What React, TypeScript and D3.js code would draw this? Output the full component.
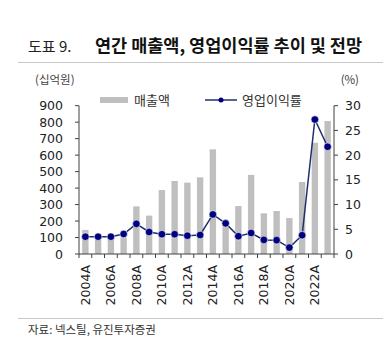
import React from "react";
import * as d3 from "d3";

const years = ["2004","2005","2006","2007","2008","2009","2010","2011","2012","2013","2014","2015","2016","2017","2018","2019","2020","2021","2022","2023"];
const sales = [146, 85, 90, 100, 289, 233, 388, 443, 433, 465, 635, 180, 291, 480, 247, 261, 218, 437, 675, 807];
const margin = [3.5, 3.5, 3.5, 4.05, 6.1, 4.45, 4.0, 4.0, 3.7, 3.85, 8.0, 6.2, 3.6, 4.25, 2.85, 2.8, 1.3, 3.8, 27.2, 21.7];
const leftTicks = [0, 100, 200, 300, 400, 500, 600, 700, 800, 900];
const rightTicks = [0, 5, 10, 15, 20, 25, 30];

const W = 383, H = 361;
const L = 79, R = 334, T = 105.7, B = 254;
const font = "'Noto Sans CJK KR', 'Noto Sans', sans-serif";
const numFont = "'DejaVu Sans', sans-serif";

export default function App() {
  const x = d3.scaleBand<string>().domain(years).range([L, R]).paddingInner(0).paddingOuter(0);
  const yL = d3.scaleLinear().domain([0, 900]).range([B, T]);
  const yR = d3.scaleLinear().domain([0, 30]).range([B, T]);
  const bw = x.bandwidth();
  const barW = bw * 0.5;
  const line = d3.line<number>().x((_, i) => x(years[i])! + bw / 2).y(d => yR(d));
  const tc = "#404040";
  return (
    <svg width={W} height={H} style={{ position: "absolute", left: 0, top: 0, background: "#fff" }} fontFamily={font}>
      <text x={28} y={52} fontSize={15} fill="#222">도표 9.</text>
      <text x={95} y={52} fontSize={17.5} fontWeight="bold" fill="#111" textLength={267} lengthAdjust="spacingAndGlyphs">연간 매출액, 영업이익률 추이 및 전망</text>
      <line x1={18} x2={383} y1={62.5} y2={62.5} stroke="#c8c8c8" strokeWidth={1} />
      <text x={35} y={84} fontSize={11.5} fill="#444">(십억원)</text>
      <text x={359} y={84} fontSize={11.5} fill="#444" textAnchor="end">(%)</text>

      {/* legend */}
      <rect x={100} y={97} width={28} height={6} fill="#bfbfbf" />
      <text x={134} y={104.5} fontSize={13} fill="#333">매출액</text>
      <line x1={205} x2={237} y1={100} y2={100} stroke="#1f2f6e" strokeWidth={1.5} />
      <circle cx={221} cy={100} r={2.5} fill="#00007f" />
      <text x={242} y={104.5} fontSize={13} fill="#333">영업이익률</text>

      {/* bars */}
      {sales.map((v, i) => (
        <rect key={years[i]} x={x(years[i])! + (bw - barW) / 2} y={yL(v)} width={barW} height={B - yL(v)} fill="#bfbfbf" />
      ))}

      {/* left axis */}
      <line x1={L} x2={L} y1={T} y2={B} stroke={tc} />
      {leftTicks.map(t => (
        <g key={"l" + t}>
          <line x1={L - 4} x2={L} y1={yL(t)} y2={yL(t)} stroke={tc} />
          <text x={L - 16} y={yL(t)} dy="0.36em" fontSize={12.5} fontFamily={numFont} textAnchor="end" fill="#222">{t}</text>
        </g>
      ))}
      {/* right axis */}
      <line x1={R} x2={R} y1={T} y2={B} stroke={tc} />
      {rightTicks.map(t => (
        <g key={"r" + t}>
          <line x1={R} x2={R + 4} y1={yR(t)} y2={yR(t)} stroke={tc} />
          <text x={R + 11} y={yR(t)} dy="0.36em" fontSize={12.5} fontFamily={numFont} textAnchor="start" fill="#222">{t}</text>
        </g>
      ))}
      {/* x axis */}
      <line x1={L} x2={R} y1={B} y2={B} stroke={tc} />
      {years.map((yv) => (
        <line key={"t" + yv} x1={x(yv)!} x2={x(yv)!} y1={B} y2={B + 4} stroke={tc} />
      ))}
      <line x1={R} x2={R} y1={B} y2={B + 4} stroke={tc} />
      {years.map((yv, i) => i % 2 === 0 ? (
        <text key={"x" + yv} transform={`translate(${x(yv)! + bw / 2},265) rotate(-90)`} dy="0.36em" fontSize={12.5} fontFamily={numFont} textAnchor="end" fill="#222">{yv + "A"}</text>
      ) : null)}

      {/* line */}
      <path d={line(margin)!} fill="none" stroke="#1f2f6e" strokeWidth={1.5} />
      {margin.map((v, i) => (
        <circle key={"c" + i} cx={x(years[i])! + bw / 2} cy={yR(v)} r={3.8} fill="#00007f" stroke="#fff" strokeWidth={0.6} />
      ))}

      <line x1={18} x2={383} y1={318.5} y2={318.5} stroke="#c8c8c8" strokeWidth={1} />
      <text x={28} y={334} fontSize={11.5} fill="#333">자료: 넥스틸, 유진투자증권</text>
    </svg>
  );
}
